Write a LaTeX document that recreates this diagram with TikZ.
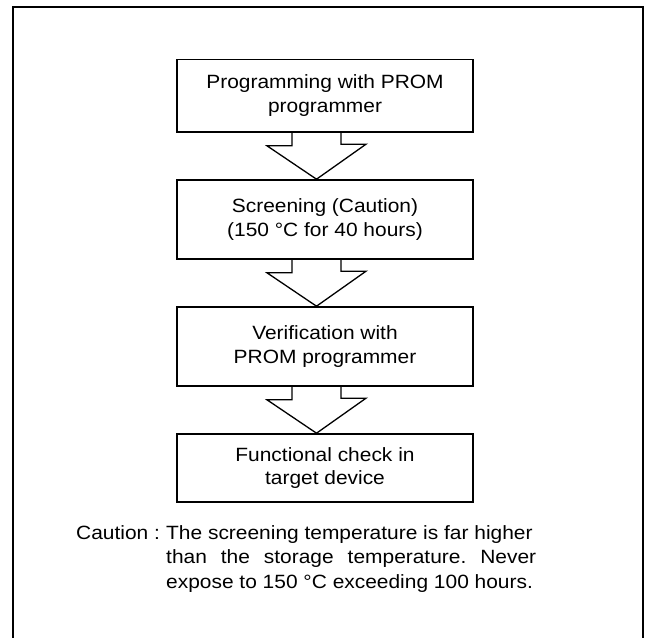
\documentclass[tikz,border=0pt]{standalone}
\usepackage{fontspec}
\setmainfont[FakeStretch=1.09]{Liberation Sans}
\usetikzlibrary{calc}
\frenchspacing
\newcommand\flowarrow[2]{%
  \coordinate (#1top) at ($(#1.south)+(-8.5,0)$);
  \coordinate (#1tip) at ($(#2.north)+(-8.5,0)$);
  \draw[blockarrow] ($(#1top)+(-24.5,0)$) -- ++(0,13) -- ++(-25,0) -- (#1tip)
    -- ++(49.5,-35) -- ++(-25,0) -- ++(0,-13);}
\begin{document}
\begin{tikzpicture}[x=1pt,y=-1pt,
  stepbox/.style={draw, line width=1.6pt, minimum width=296pt, inner sep=0pt,
    align=center, font=\fontsize{19.2}{23.5}\selectfont},
  blockarrow/.style={draw, line width=1.3pt, line join=miter},
  frameline/.style={draw, line width=2.2pt},
  note/.style={anchor=base west, inner sep=0pt, font=\fontsize{19.2}{24.4}\selectfont}]
\useasboundingbox (0,0) rectangle (647,637);
\fill[white] (0,0) rectangle (647,637);
\draw[frameline] (12.7,640) -- (12.7,7.3) -- (643.3,7.3) -- (643.3,640);
\node[stepbox, minimum height=72.5pt] (b1) at (325,95.75) {Programming with PROM\\programmer};
\node[stepbox, minimum height=79pt] (b2) at (325,219.5) {Screening (Caution)\\(150 °C for 40 hours)};
\node[stepbox, minimum height=79pt] (b3) at (325,346.5) {Verification with\\PROM programmer};
\node[stepbox, minimum height=68pt] (b4) at (325,468) {Functional check in\\target device};
\flowarrow{b1}{b2}
\flowarrow{b2}{b3}
\flowarrow{b3}{b4}
\node[note] (cl) at (76,539.3) {Caution :};
\node[note] (c1) at (166,539.3) {The screening temperature is far higher};
\node[note] (c2) at (166,563.6) {\makebox[370pt][s]{than the storage temperature. Never}};
\node[note] (c3) at (166,588) {expose to 150 °C exceeding 100 hours.};
\end{tikzpicture}
\end{document}
